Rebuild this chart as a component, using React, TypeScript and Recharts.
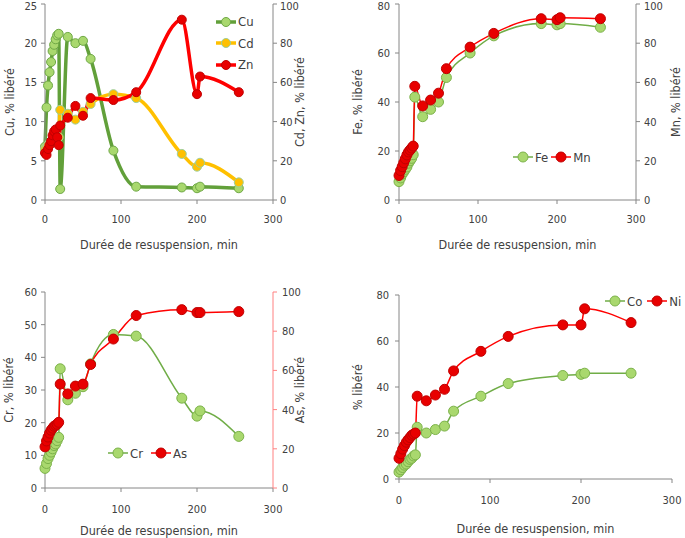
import { Legend, Line, LineChart, XAxis, YAxis } from "recharts";

// sampling times (min)
const time = [0, 2, 4, 6, 8, 10, 12, 14, 16, 18, 20, 30, 40, 50, 60, 90, 120, 180, 200, 204, 255];

// % libéré
const cu = [6.8, 11.8, 14.6, 16.3, 17.6, 19, 19.8, 20.5, 21, 21.2, 1.4, 20.8, 20, 20.3, 18, 6.3, 1.7, 1.6, 1.5, 1.7, 1.5];
const cd = [26, 27, 28, 29, 29, 30, 30, 31, 31, 32, 46, 44, 41, 45, 49, 54, 52, 23.5, 17, 19, 9];
const zn = [24, 23, 26, 28, 30, 33, 35, 36, 32, 28, 38, 42, 48, 43, 52, 51, 55, 92, 54, 63, 55];
const fe = [7.5, 9, 10.5, 11.5, 12.5, 13.5, 15, 16, 17, 18.5, 42, 34, 37, 40, 50, 60, 67, 72, 71.5, 72, 70.5];
const mn = [12.5, 15, 17, 19, 21, 23, 24.5, 25.5, 26.5, 27.5, 58, 48, 51, 54.5, 67, 78, 85, 92.5, 92, 93, 92.5];
const cr = [6, 7.5, 9, 10, 11, 12, 13, 13.5, 14.5, 15.5, 36.5, 27, 29, 31, 38, 47, 46.5, 27.5, 22, 23.6, 15.8];
const arsenic = [21, 24, 26, 28, 29.5, 30.5, 31.5, 32, 32.5, 33.5, 53, 48, 52, 53, 63, 76, 88, 91, 89.5, 89.5, 90];
const co = [3, 4, 5, 6, 6.5, 7.5, 8.5, 9, 10, 10.5, 22.5, 20, 21.5, 23, 29.5, 36, 41.5, 45, 45.5, 46, 46];
const ni = [9, 11, 13, 14.5, 16, 17, 18, 19, 19.5, 20, 36, 34, 36.5, 39, 47, 55.5, 62, 67, 67, 74, 68];

const xTicks = [0, 100, 200, 300];
const xTitle = "Durée de resuspension, min";

const FONT = "'Liberation Sans Narrow', 'DejaVu Sans Condensed', Roboto, sans-serif";
const TEXT = "#404040";
const AXIS = "#868686";

const GREEN = { line: "#70ad47", fill: "#a9d86e", edge: "#7cb24a" };
const DARK_GREEN = { line: "#62a03a", fill: "#a9d86e", edge: "#6fa846" };
const RED = { line: "#ff0000", fill: "#e80000", edge: "#c00000" };
const YELLOW = { line: "#ffc000", fill: "#ffc000", edge: "#9ccf9c" };

type Serie = {
  key: string;
  name: string;
  axis: string;
  color: { line: string; fill: string; edge: string };
  width: number;
  r: number;
};

type AxisCfg = {
  width: number;
  domain: number[];
  ticks: number[];
  title?: string;
  titleOffset: number;
  tickMargin: number;
  stroke?: string;
};

function LegendBox({ items, vertical, gap }: { items: Serie[]; vertical: boolean; gap: number }) {
  return (
    <div
      style={{
        display: "flex",
        flexDirection: vertical ? "column" : "row",
        columnGap: gap,
        fontFamily: FONT,
        fontSize: 13,
        color: TEXT,
        whiteSpace: "nowrap",
      }}
    >
      {items.map((s) => (
        <div key={s.key} style={{ display: "flex", alignItems: "center", height: vertical ? 21.5 : 20 }}>
          <svg width={20} height={12}>
            <line x1={0} y1={6} x2={20} y2={6} stroke={s.color.line} strokeWidth={s.width} />
            <circle cx={10} cy={6} r={s.r} fill={s.color.fill} stroke={s.color.edge} />
          </svg>
          <span style={{ marginLeft: 2 }}>{s.name}</span>
        </div>
      ))}
    </div>
  );
}

function Panel(props: {
  left: number;
  top: number;
  width: number;
  height: number;
  marginTop: number;
  marginRight: number;
  xHeight: number;
  xTickMargin: number;
  xTitleOffset: number;
  leftAxis: AxisCfg;
  rightAxis?: AxisCfg;
  series: Serie[];
  values: Record<string, number[]>;
  legend: { left: number; top: number; vertical: boolean; gap: number };
}) {
  const data = time.map((t, i) => {
    const row: Record<string, number> = { t };
    for (const k of Object.keys(props.values)) row[k] = props.values[k][i];
    return row;
  });
  const tick = { fill: TEXT, fontSize: 11, fontFamily: FONT };
  const titleStyle = { fill: TEXT, fontSize: 12.5, fontFamily: FONT };
  const la = props.leftAxis;
  const ra = props.rightAxis;

  return (
    <div style={{ position: "absolute", left: props.left, top: props.top }}>
      <LineChart
        width={props.width}
        height={props.height}
        data={data}
        margin={{ top: props.marginTop, right: props.marginRight, bottom: 0, left: 0 }}
      >
        <XAxis
          type="number"
          dataKey="t"
          domain={[0, 300]}
          ticks={xTicks}
          height={props.xHeight}
          tickSize={4}
          tickMargin={props.xTickMargin}
          stroke={AXIS}
          tick={tick}
          label={{ value: xTitle, position: "insideBottom", offset: props.xTitleOffset, ...titleStyle }}
        />
        <YAxis
          yAxisId="left"
          orientation="left"
          width={la.width}
          domain={la.domain}
          ticks={la.ticks}
          tickSize={4}
          tickMargin={la.tickMargin}
          stroke={AXIS}
          tick={tick}
          label={{
            value: la.title,
            angle: -90,
            position: "insideLeft",
            offset: la.titleOffset,
            style: { textAnchor: "middle" },
            ...titleStyle,
          }}
        />
        {ra && (
          <YAxis
            yAxisId="right"
            orientation="right"
            width={ra.width}
            domain={ra.domain}
            ticks={ra.ticks}
            tickSize={4}
            tickMargin={ra.tickMargin}
            stroke={ra.stroke || AXIS}
            tick={tick}
            label={{
              value: ra.title,
              angle: -90,
              position: "insideRight",
              offset: ra.titleOffset,
              style: { textAnchor: "middle" },
              ...titleStyle,
            }}
          />
        )}
        {props.series.map((s) => (
          <Line
            key={s.key}
            yAxisId={s.axis}
            dataKey={s.key}
            name={s.name}
            type="monotone"
            stroke={s.color.line}
            strokeWidth={s.width}
            dot={{ r: s.r, fill: s.color.fill, stroke: s.color.edge, strokeWidth: 1 }}
            activeDot={false}
            isAnimationActive={false}
          />
        ))}
        <Legend
          layout="vertical"
          align="center"
          verticalAlign="middle"
          wrapperStyle={{ left: props.legend.left, top: props.legend.top, width: "auto", height: "auto" }}
          content={() => (
            <LegendBox items={props.series} vertical={props.legend.vertical} gap={props.legend.gap} />
          )}
        />
      </LineChart>
    </div>
  );
}

export default function App() {
  return (
    <div style={{ position: "absolute", left: 0, top: 0, width: 685, height: 538, background: "#fff" }}>
      <Panel
        left={0}
        top={0}
        width={310}
        height={260}
        marginTop={4}
        marginRight={0}
        xHeight={60}
        xTickMargin={11}
        xTitleOffset={11}
        leftAxis={{ width: 45, domain: [0, 25], ticks: [0, 5, 10, 15, 20, 25], title: "Cu, % libéré", titleOffset: 10, tickMargin: 4 }}
        rightAxis={{ width: 37, domain: [0, 100], ticks: [0, 20, 40, 60, 80, 100], title: "Cd, Zn,  % libéré", titleOffset: 10, tickMargin: 3 }}
        series={[
          { key: "cu", name: "Cu", axis: "left", color: DARK_GREEN, width: 3.5, r: 4.5 },
          { key: "cd", name: "Cd", axis: "right", color: YELLOW, width: 3.5, r: 4.5 },
          { key: "zn", name: "Zn", axis: "right", color: RED, width: 3.5, r: 4.5 },
        ]}
        values={{ cu, cd, zn }}
        legend={{ left: 216, top: 11, vertical: true, gap: 0 }}
      />
      <Panel
        left={340}
        top={0}
        width={345}
        height={260}
        marginTop={4}
        marginRight={0}
        xHeight={60}
        xTickMargin={11}
        xTitleOffset={11}
        leftAxis={{ width: 59, domain: [0, 80], ticks: [0, 20, 40, 60, 80], title: "Fe,  % libéré", titleOffset: 18, tickMargin: 5 }}
        rightAxis={{ width: 49, domain: [0, 100], ticks: [0, 20, 40, 60, 80, 100], title: "Mn, % libéré", titleOffset: 9, tickMargin: 4 }}
        series={[
          { key: "fe", name: "Fe", axis: "left", color: GREEN, width: 1.5, r: 5 },
          { key: "mn", name: "Mn", axis: "right", color: RED, width: 1.5, r: 5 },
        ]}
        values={{ fe, mn }}
        legend={{ left: 173, top: 147, vertical: false, gap: 3 }}
      />
      <Panel
        left={0}
        top={280}
        width={310}
        height={258}
        marginTop={12}
        marginRight={0}
        xHeight={50}
        xTickMargin={13}
        xTitleOffset={3}
        leftAxis={{ width: 45, domain: [0, 60], ticks: [0, 10, 20, 30, 40, 50, 60], title: "Cr, % libéré", titleOffset: 9, tickMargin: 4 }}
        rightAxis={{ width: 37, domain: [0, 100], ticks: [0, 20, 40, 60, 80, 100], title: "As, % libéré", titleOffset: 10, tickMargin: 5, stroke: "#ff8080" }}
        series={[
          { key: "cr", name: "Cr", axis: "left", color: GREEN, width: 1.5, r: 5 },
          { key: "as", name: "As", axis: "right", color: RED, width: 1.5, r: 5 },
        ]}
        values={{ cr, as: arsenic }}
        legend={{ left: 108, top: 163, vertical: false, gap: 8 }}
      />
      <Panel
        left={340}
        top={280}
        width={345}
        height={258}
        marginTop={15}
        marginRight={13}
        xHeight={59}
        xTickMargin={13}
        xTitleOffset={5}
        leftAxis={{ width: 59, domain: [0, 80], ticks: [0, 20, 40, 60, 80], title: "% libéré", titleOffset: 18, tickMargin: 6 }}
        series={[
          { key: "co", name: "Co", axis: "left", color: GREEN, width: 1.5, r: 5 },
          { key: "ni", name: "Ni", axis: "left", color: RED, width: 1.5, r: 5 },
        ]}
        values={{ co, ni }}
        legend={{ left: 265, top: 11, vertical: false, gap: 5 }}
      />
    </div>
  );
}
